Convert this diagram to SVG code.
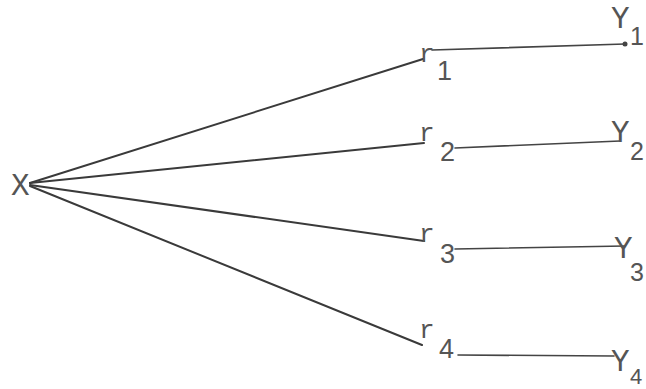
<svg xmlns="http://www.w3.org/2000/svg" width="646" height="389" viewBox="0 0 646 389">
<style>
.t{fill:#555;}
.big{font-size:31px;}
.r{font-size:26px;}
.sub{font-size:27px;}
.rs{font-size:25px;}
.ln{stroke:#3a3a3a;stroke-width:2;fill:none;stroke-linecap:round;}
.hl{stroke:#444;stroke-width:1.6;fill:none;stroke-linecap:round;}
</style>
<rect width="646" height="389" fill="#fff"/>
<g id="connectors">
<line class="ln" x1="30" y1="183" x2="423" y2="59"/>
<line class="ln" x1="30" y1="183" x2="424" y2="143"/>
<line class="ln" x1="30" y1="185" x2="424" y2="241"/>
<line class="ln" x1="30" y1="186" x2="422" y2="345"/>
<line class="hl" x1="432" y1="50" x2="625" y2="44"/>
<circle cx="625" cy="44" r="2.5" fill="#444"/>
<line class="hl" x1="455" y1="148" x2="620" y2="141"/>
<line class="hl" x1="455" y1="249" x2="625" y2="246"/>
<line class="hl" x1="458" y1="355" x2="614" y2="356"/>
</g>
<g font-family="Liberation Mono, Courier New, monospace" class="t">
<g id="X"><text class="big" x="11" y="195">X</text></g>
<g id="r1"><text class="r" x="419" y="62">r</text></g>
<g id="r2"><text class="r" x="419" y="141">r</text></g>
<g id="r3"><text class="r" x="419" y="242">r</text></g>
<g id="r4"><text class="r" x="419" y="338">r</text></g>
<g id="Y1"><text class="big" x="611" y="28">Y</text></g>
<g id="Y2"><text class="big" x="611" y="142">Y</text></g>
<g id="Y3"><text class="big" x="614" y="258">Y</text></g>
<g id="Y4"><text class="big" x="611" y="371">Y</text></g>
</g>
<g font-family="Liberation Sans, Arial, sans-serif" class="t">
<text class="sub" x="437" y="80">1</text>
<text class="sub" x="440" y="161">2</text>
<text class="sub" x="440" y="263">3</text>
<text class="sub" x="439" y="358">4</text>
<text class="rs" x="630" y="45">1</text>
<text class="rs" x="630" y="160">2</text>
<text class="rs" x="630" y="281">3</text>
<text class="rs" x="630" y="384" style="font-size:22px">4</text>
</g>
</svg>
